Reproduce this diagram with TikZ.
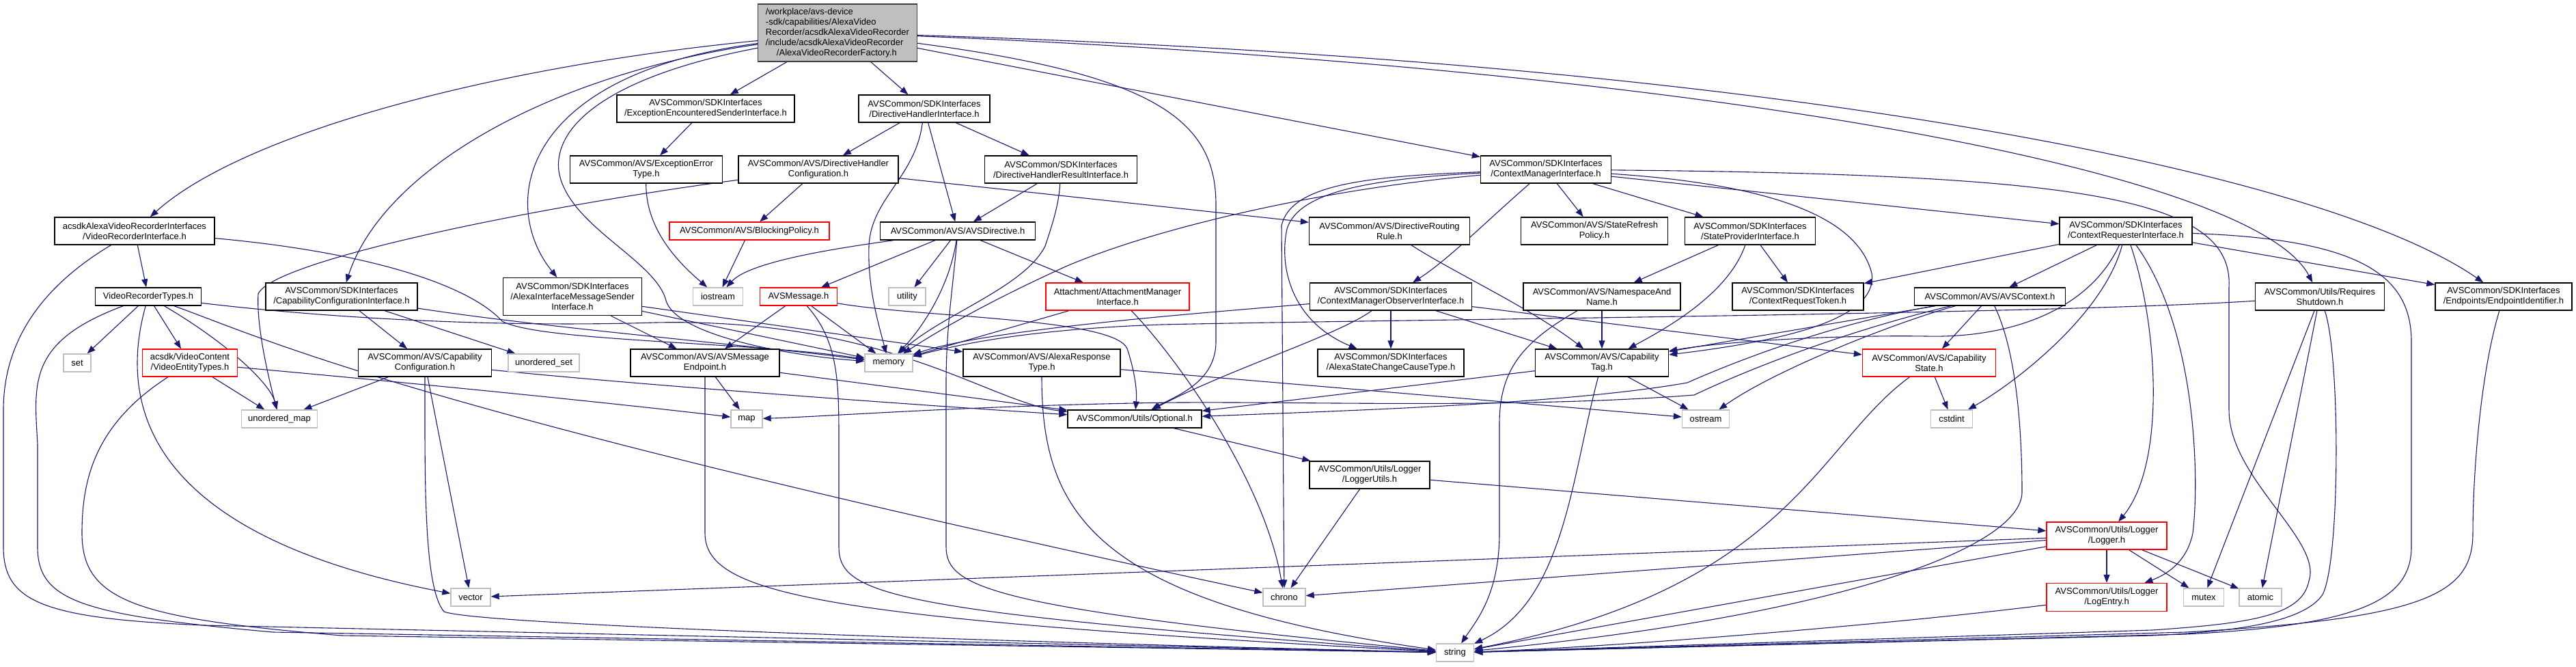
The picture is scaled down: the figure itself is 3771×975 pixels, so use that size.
\documentclass[tikz,border=0pt]{standalone}
\usepackage{fontspec}
\setmainfont{Liberation Sans}
\usetikzlibrary{arrows.meta, backgrounds}
\definecolor{edgeblue}{RGB}{25,25,112}
\definecolor{sysgray}{RGB}{191,191,191}

\begin{document}
\begin{tikzpicture}[x=1pt, y=-1pt,
  hdr/.style={draw=black, line width=1.3pt, fill=white, inner sep=2pt, align=center, font=\fontsize{13}{15}\selectfont},
  redhdr/.style={hdr, draw=red},
  syshdr/.style={hdr, draw=sysgray},
  tophdr/.style={hdr, fill=sysgray, draw=black!75, align=left},
  wh/.style 2 args={minimum width=#1pt, minimum height=#2pt},
  dep/.style={draw=edgeblue, line width=1.1pt, -{Triangle[length=12pt, width=9pt]}}
]
\useasboundingbox (0,0) rectangle (3771,975);

\node[tophdr, wh={233}{84}] (F) at (1226,48) {/workplace/avs-device\\-sdk/capabilities/AlexaVideo\\Recorder/acsdkAlexaVideoRecorder\\/include/acsdkAlexaVideoRecorder\\\hspace*{16pt}/AlexaVideoRecorderFactory.h};

\node[hdr, wh={260}{40}] (ees) at (1033,159) {AVSCommon/SDKInterfaces\\/ExceptionEncounteredSenderInterface.h};
\node[hdr, wh={192}{40}] (dhi) at (1353,159) {AVSCommon/SDKInterfaces\\/DirectiveHandlerInterface.h};
\node[hdr, wh={223}{40}] (eet) at (946,248) {AVSCommon/AVS/ExceptionError\\Type.h};
\node[hdr, wh={234}{40}] (dhc) at (1198,248) {AVSCommon/AVS/DirectiveHandler\\Configuration.h};
\node[hdr, wh={223}{40}] (dhri) at (1553,248) {AVSCommon/SDKInterfaces\\/DirectiveHandlerResultInterface.h};
\node[hdr, wh={191}{40}] (cmi) at (2263,248) {AVSCommon/SDKInterfaces\\/ContextManagerInterface.h};

\node[hdr, wh={234}{40}] (vri) at (197,338) {acsdkAlexaVideoRecorderInterfaces\\/VideoRecorderInterface.h};
\node[redhdr, wh={234}{26}] (bp) at (1097,338) {AVSCommon/AVS/BlockingPolicy.h};
\node[hdr, wh={227}{26}] (avsd) at (1402,338) {AVSCommon/AVS/AVSDirective.h};
\node[hdr, wh={235}{40}] (drr) at (2034,338) {AVSCommon/AVS/DirectiveRouting\\Rule.h};
\node[hdr, wh={215}{40}] (srp) at (2334,338) {AVSCommon/AVS/StateRefresh\\Policy.h};
\node[hdr, wh={191}{40}] (spi) at (2562,338) {AVSCommon/SDKInterfaces\\/StateProviderInterface.h};
\node[hdr, wh={194}{40}] (creq) at (3112,338) {AVSCommon/SDKInterfaces\\/ContextRequesterInterface.h};

\node[hdr, wh={155}{26}] (vrt) at (217,434) {VideoRecorderTypes.h};
\node[hdr, wh={222}{40}] (cci) at (500,434) {AVSCommon/SDKInterfaces\\/CapabilityConfigurationInterface.h};
\node[hdr, wh={203}{55}] (aims) at (838,434) {AVSCommon/SDKInterfaces\\/AlexaInterfaceMessageSender\\Interface.h};
\node[syshdr, wh={73}{26}] (ios) at (1051,434) {iostream};
\node[redhdr, wh={113}{26}] (avsm) at (1169,434) {AVSMessage.h};
\node[syshdr, wh={54}{26}] (util) at (1328,434) {utility};
\node[redhdr, wh={210}{40}] (att) at (1636,434) {Attachment/AttachmentManager\\Interface.h};
\node[hdr, wh={237}{40}] (cmoi) at (2036,434) {AVSCommon/SDKInterfaces\\/ContextManagerObserverInterface.h};
\node[hdr, wh={230}{40}] (nan) at (2345,434) {AVSCommon/AVS/NamespaceAnd\\Name.h};
\node[hdr, wh={192}{40}] (crt) at (2632,434) {AVSCommon/SDKInterfaces\\/ContextRequestToken.h};
\node[hdr, wh={221}{26}] (actx) at (2913,434) {AVSCommon/AVS/AVSContext.h};
\node[hdr, wh={189}{40}] (rs) at (3396,434) {AVSCommon/Utils/Requires\\Shutdown.h};
\node[hdr, wh={200}{40}] (eid) at (3665,434) {AVSCommon/SDKInterfaces\\/Endpoints/EndpointIdentifier.h};

\node[syshdr, wh={40}{26}] (set) at (113,531) {set};
\node[redhdr, wh={139}{40}] (vet) at (278,531) {acsdk/VideoContent\\/VideoEntityTypes.h};
\node[hdr, wh={195}{40}] (capcfg) at (622,531) {AVSCommon/AVS/Capability\\Configuration.h};
\node[syshdr, wh={104}{26}] (uset) at (796,531) {unordered\_set};
\node[hdr, wh={218}{40}] (avsme) at (1032,531) {AVSCommon/AVS/AVSMessage\\Endpoint.h};
\node[syshdr, wh={70}{26}] (mem) at (1301,531) {memory};
\node[hdr, wh={230}{40}] (art) at (1525,531) {AVSCommon/AVS/AlexaResponse\\Type.h};
\node[hdr, wh={214}{40}] (ascct) at (2036,531) {AVSCommon/SDKInterfaces\\/AlexaStateChangeCauseType.h};
\node[hdr, wh={195}{40}] (ctag) at (2345,531) {AVSCommon/AVS/Capability\\Tag.h};
\node[redhdr, wh={195}{40}] (cstate) at (2824,531) {AVSCommon/AVS/Capability\\State.h};

\node[syshdr, wh={111}{26}] (umap) at (409,613) {unordered\_map};
\node[syshdr, wh={46}{26}] (map) at (1093,613) {map};
\node[hdr, wh={196}{26}] (opt) at (1661,613) {AVSCommon/Utils/Optional.h};
\node[syshdr, wh={69}{26}] (ost) at (2497,613) {ostream};
\node[syshdr, wh={61}{26}] (cstd) at (2857,613) {cstdint};
\node[hdr, wh={176}{40}] (lutil) at (2005,695) {AVSCommon/Utils/Logger\\/LoggerUtils.h};
\node[redhdr, wh={176}{40}] (logger) at (3084,784) {AVSCommon/Utils/Logger\\/Logger.h};

\node[syshdr, wh={58}{26}] (vec) at (689,874) {vector};
\node[syshdr, wh={62}{26}] (chrono) at (1880,874) {chrono};
\node[redhdr, wh={176}{41}] (logent) at (3084,874) {AVSCommon/Utils/Logger\\/LogEntry.h};
\node[syshdr, wh={59}{26}] (mutex) at (3226,874) {mutex};
\node[syshdr, wh={62}{26}] (atomic) at (3309,874) {atomic};
\node[syshdr, wh={55}{26}] (str) at (2130,955) {string};

\begin{pgfonlayer}{background}
\fill[white] (0,0) rectangle (3771,975);

\draw[dep] (F) .. controls (700,100) and (350,200) .. (vri);
\draw[dep] (F) .. controls (800,110) and (560,250) .. (cci);
\draw[dep] (F) .. controls (760,110) and (730,300) .. (aims);
\draw[dep] (F) .. controls (900,110) and (810,180) .. (818,250) .. controls (830,330) and (960,380) .. (975,440) .. controls (990,490) and (1150,520) .. (mem);
\draw[dep] (F) -- (ees);
\draw[dep] (F) -- (dhi);
\draw[dep] (F) -- (cmi);
\draw[dep] (F) .. controls (1700,110) and (1780,180) .. (1780,300) -- (1780,500) .. controls (1780,560) and (1720,580) .. (opt);
\draw[dep] (F) .. controls (2500,100) and (3300,250) .. (rs);
\draw[dep] (F) .. controls (2600,90) and (3400,250) .. (eid);

\draw[dep] (vri) -- (vrt);
\draw[dep] (vri) .. controls (60,420) and (5,500) .. (5,600) -- (5,800) .. controls (5,880) and (60,905) .. (300,915) -- (str);
\draw[dep] (vri) .. controls (550,370) and (690,420) .. (735,470) .. controls (790,500) and (1100,500) .. (mem);

\draw[dep] (vrt) -- (set);
\draw[dep] (vrt) -- (vet);
\draw[dep] (vrt) .. controls (330,500) and (395,560) .. (umap);
\draw[dep] (vrt) .. controls (165,620) and (250,790) .. (vec);
\draw[dep] (vrt) .. controls (40,500) and (50,560) .. (55,650) -- (55,800) .. controls (55,880) and (120,900) .. (400,925) -- (str);
\draw[dep] (vrt) .. controls (400,500) and (600,600) .. (chrono);
\draw[dep] (vrt) .. controls (450,462) and (700,480) .. (960,472) .. controls (1300,465) and (1450,590) .. (opt);

\draw[dep] (vet) -- (umap);
\draw[dep] (vet) .. controls (140,620) and (120,700) .. (120,780) .. controls (120,880) and (200,905) .. (500,930) -- (str);
\draw[dep] (vet) .. controls (600,560) and (900,590) .. (map);

\draw[dep] (capcfg) -- (umap);
\draw[dep] (capcfg) -- (vec);
\draw[dep] (capcfg) .. controls (622,700) and (620,860) .. (650,895) .. controls (700,915) and (1500,940) .. (str);
\draw[dep] (capcfg) .. controls (900,560) and (1300,590) .. (opt);

\draw[dep] (cci) -- (capcfg);
\draw[dep] (cci) -- (uset);
\draw[dep] (cci) .. controls (800,480) and (1100,505) .. (mem);

\draw[dep] (aims) -- (avsme);
\draw[dep] (aims) -- (mem);
\draw[dep] (aims) -- (art);

\draw[dep] (ees) -- (eet);
\draw[dep] (eet) .. controls (945,340) and (1000,390) .. (ios);

\draw[dep] (dhi) -- (dhc);
\draw[dep] (dhi) -- (dhri);
\draw[dep] (dhi) -- (avsd);
\draw[dep] (dhi) .. controls (1340,260) and (1275,290) .. (1272,360) .. controls (1270,420) and (1285,470) .. (mem);

\draw[dep] (dhc) -- (bp);
\draw[dep] (dhc) -- (drr);
\draw[dep] (dhc) .. controls (800,300) and (400,380) .. (378,430) .. controls (375,480) and (395,560) .. (umap);

\draw[dep] (dhri) -- (avsd);
\draw[dep] (dhri) .. controls (1550,300) and (1540,330) .. (1530,360) .. controls (1500,420) and (1380,460) .. (mem);

\draw[dep] (bp) -- (ios);

\draw[dep] (avsd) .. controls (1250,360) and (1100,380) .. (ios);
\draw[dep] (avsd) -- (avsm);
\draw[dep] (avsd) -- (util);
\draw[dep] (avsd) -- (att);
\draw[dep] (avsd) .. controls (1390,420) and (1350,480) .. (mem);
\draw[dep] (avsd) .. controls (1395,420) and (1385,480) .. (1385,560) -- (1385,800) .. controls (1385,860) and (1450,890) .. (str);

\draw[dep] (avsm) -- (avsme);
\draw[dep] (avsm) -- (mem);
\draw[dep] (avsm) .. controls (1228,500) and (1228,560) .. (1228,650) -- (1228,800) .. controls (1228,870) and (1300,895) .. (str);
\draw[dep] (avsm) .. controls (1350,465) and (1630,465) .. (1650,510) .. controls (1660,540) and (1665,570) .. (opt);

\draw[dep] (att) -- (mem);
\draw[dep] (att) .. controls (1720,520) and (1850,700) .. (chrono);

\draw[dep] (avsme) -- (map);
\draw[dep] (avsme) .. controls (1032,620) and (1032,700) .. (1032,780) .. controls (1032,870) and (1200,905) .. (str);
\draw[dep] (avsme) -- (opt);

\draw[dep] (art) -- (ost);
\draw[dep] (art) .. controls (1525,750) and (1600,880) .. (str);

\draw[dep] (opt) -- (lutil);
\draw[dep] (lutil) -- (chrono);
\draw[dep] (lutil) -- (logger);

\draw[dep] (logger) -- (logent);
\draw[dep] (logger) -- (mutex);
\draw[dep] (logger) -- (atomic);
\draw[dep] (logger) -- (chrono);
\draw[dep] (logger) -- (vec);
\draw[dep] (logger) -- (str);
\draw[dep] (logent) .. controls (2800,910) and (2400,945) .. (str);

\draw[dep] (cmi) .. controls (2180,320) and (2120,380) .. (cmoi);
\draw[dep] (cmi) -- (srp);
\draw[dep] (cmi) -- (spi);
\draw[dep] (cmi) -- (creq);
\draw[dep] (cmi) .. controls (2000,258) and (1890,270) .. (1876,330) -- (chrono);
\draw[dep] (cmi) .. controls (2000,262) and (1900,282) .. (1884,335) .. controls (1872,390) and (1890,470) .. (ascct);
\draw[dep] (cmi) .. controls (1950,275) and (1700,330) .. (1560,390) .. controls (1450,440) and (1380,480) .. (mem);
\draw[dep] (cmi) .. controls (2600,270) and (2720,320) .. (2740,400) .. controls (2750,470) and (2600,500) .. (ctag);
\draw[dep] (cmi) .. controls (3050,255) and (3270,290) .. (3263,420) -- (3263,600) .. controls (3263,700) and (3400,790) .. (3380,850) .. controls (3370,900) and (3300,912) .. (3150,922) -- (str);

\draw[dep] (cmoi) .. controls (1800,455) and (1450,480) .. (mem);
\draw[dep] (cmoi) -- (ascct);
\draw[dep] (cmoi) -- (ctag);
\draw[dep] (cmoi) -- (cstate);
\draw[dep] (cmoi) .. controls (1960,490) and (1800,540) .. (opt);

\draw[dep] (spi) -- (nan);
\draw[dep] (spi) -- (crt);
\draw[dep] (spi) .. controls (2530,430) and (2440,480) .. (ctag);
\draw[dep] (drr) .. controls (2130,400) and (2240,450) .. (ctag);

\draw[dep] (nan) -- (ctag);
\draw[dep] (nan) .. controls (2230,500) and (2195,540) .. (2195,620) -- (2195,780) .. controls (2195,870) and (2160,910) .. (str);

\draw[dep] (ctag) -- (ost);
\draw[dep] (ctag) .. controls (2300,700) and (2290,880) .. (str);
\draw[dep] (ctag) -- (opt);

\draw[dep] (cstate) -- (cstd);
\draw[dep] (cstate) .. controls (2660,650) and (2620,860) .. (str);

\draw[dep] (creq) -- (actx);
\draw[dep] (creq) -- (crt);
\draw[dep] (creq) -- (eid);
\draw[dep] (creq) .. controls (3080,460) and (2950,560) .. (cstd);
\draw[dep] (creq) .. controls (3160,480) and (3170,680) .. (logger);
\draw[dep] (creq) .. controls (3215,480) and (3220,700) .. (3210,780) .. controls (3200,830) and (3160,845) .. (logent);
\draw[dep] (creq) .. controls (3060,450) and (2950,495) .. (2820,492) .. controls (2680,490) and (2520,500) .. (ctag);
\draw[dep] (creq) .. controls (3450,350) and (3530,400) .. (3530,500) -- (3530,800) .. controls (3530,880) and (3450,915) .. (3200,928) -- (str);

\draw[dep] (actx) -- (cstate);
\draw[dep] (actx) .. controls (2780,470) and (2600,540) .. (ost);
\draw[dep] (actx) -- (ctag);
\draw[dep] (actx) .. controls (2700,470) and (2560,520) .. (2470,560) .. controls (2300,590) and (2000,600) .. (opt);
\draw[dep] (actx) .. controls (2700,485) and (2560,540) .. (2480,578) .. controls (2200,600) and (1850,585) .. (1660,590) .. controls (1400,595) and (1200,610) .. (map);
\draw[dep] (actx) .. controls (2955,520) and (2960,650) .. (2960,720) .. controls (2960,800) and (2700,900) .. (str);

\draw[dep] (rs) -- (mutex);
\draw[dep] (rs) -- (atomic);
\draw[dep] (rs) .. controls (3426,520) and (3426,820) .. (3400,870) .. controls (3370,915) and (3250,925) .. (3150,930) -- (str);
\draw[dep] (rs) .. controls (3000,460) and (2000,468) .. (1700,475) .. controls (1500,482) and (1400,505) .. (mem);

\draw[dep] (eid) .. controls (3630,550) and (3620,700) .. (3620,780) .. controls (3620,870) and (3550,905) .. (3200,925) -- (str);
\end{pgfonlayer}
\end{tikzpicture}
\end{document}
